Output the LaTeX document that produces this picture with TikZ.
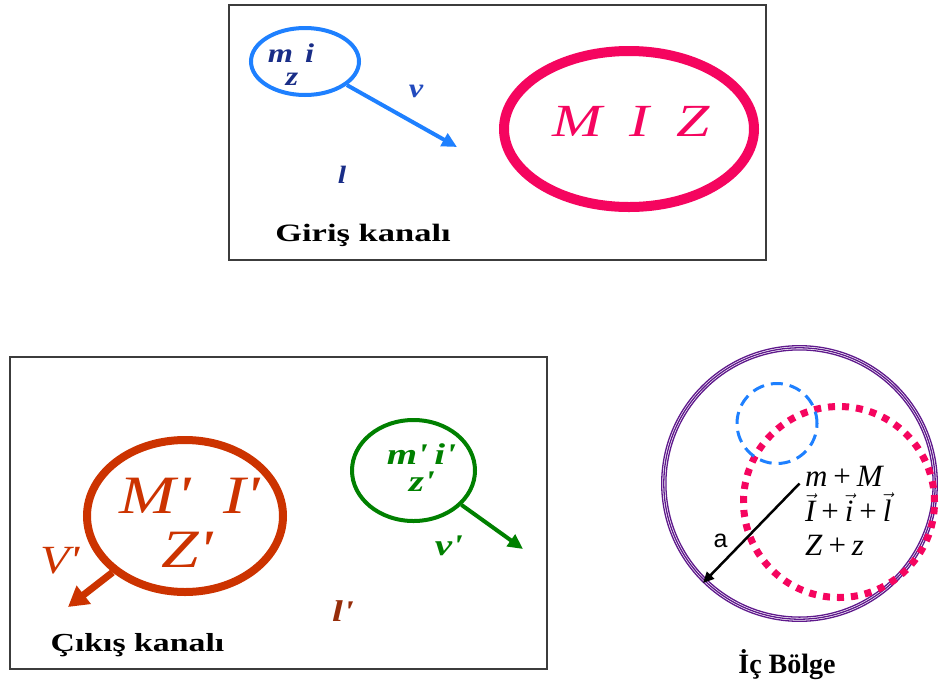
\documentclass[tikz,border=0pt]{standalone}
\usepackage{fontspec}
\setmainfont{Liberation Serif}
\newfontfamily\arialf{Liberation Sans}
\usepackage{graphicx}
\usetikzlibrary{arrows.meta,shapes.geometric}
\definecolor{bluec}{RGB}{30,128,255}
\definecolor{navyt}{RGB}{25,45,135}
\definecolor{bluev}{RGB}{35,75,190}
\definecolor{pinkc}{RGB}{245,5,95}
\definecolor{redc}{RGB}{204,51,0}
\definecolor{greenc}{RGB}{0,128,0}
\definecolor{brownc}{RGB}{150,45,10}
\definecolor{purpc}{RGB}{95,25,140}
\definecolor{boxc}{RGB}{60,60,60}
\newcommand{\hs}[2]{\scalebox{#1}[1]{#2}}
\newcommand{\fs}[1]{\fontsize{#1}{#1}\selectfont}
\newcommand{\pr}{\textquotesingle}
\newcommand{\pl}{\hspace{6pt}+\hspace{6pt}}
\begin{document}
\begin{tikzpicture}[x=1pt,y=-1pt,
  lbl/.style={inner sep=0pt,outer sep=0pt,anchor=base},
  lblw/.style={inner sep=0pt,outer sep=0pt,anchor=base west},
  framebox/.style={draw=boxc,line width=1.5pt,inner sep=0pt,anchor=north west},
  ring/.style={ellipse,inner sep=0pt},
  bigtxt/.style={lbl,font=\bfseries}]
\useasboundingbox (0,0) rectangle (939,686);
\fill[white] (0,0) rectangle (939,686);

% ---------- Giris kanali ----------
\node[framebox,minimum width=537pt,minimum height=255pt] (topbox) at (228,4) {};
\node[ring,draw=bluec,line width=4pt,minimum width=108pt,minimum height=67pt] (bc) at (305,61.5) {};
\coordinate (vtip) at (457,147);
\draw[bluec,line width=4pt,-{Triangle[length=15pt,width=14pt]}] (bc) -- (vtip);
\node[lbl,text=navyt] (mi) at (291,62) {\fs{27}\bfseries\itshape\hs{1.2}{m\hspace{10pt}i}};
\node[lbl,text=navyt] (zz) at (292,85) {\fs{27}\bfseries\itshape\hs{1.2}{z}};
\node[lbl,text=bluev] (v) at (416,97) {\fs{27}\bfseries\itshape\hs{1.2}{v}};
\node[lbl,text=navyt] (l) at (342,183) {\fs{25}\bfseries\itshape\hs{1.2}{l}};
\node[ring,draw=pinkc,line width=10pt,minimum width=250pt,minimum height=156pt] (miz) at (629,129) {};
\node[lbl,text=pinkc] (miztxt) at (631,136) {\fs{46}\itshape\hs{1.3}{M\hspace{21pt}I\hspace{21pt}Z}};
\node[bigtxt] (giris) at (363,241) {\fs{25}\hs{1.38}{Giriş kanalı}};

% ---------- Cikis kanali ----------
\node[framebox,minimum width=537pt,minimum height=312pt] (botbox) at (9,356) {};
\node[ring,draw=redc,line width=8pt,minimum width=196pt,minimum height=152pt] (rc) at (185,516) {};
\coordinate (Vtip) at (68,607);
\draw[redc,line width=7pt,-{Triangle[length=20pt,width=22pt]}] (rc) -- (Vtip);
\node[lbl,text=redc] (MI) at (190,513) {\fs{54}\itshape\hs{1.25}{M\pr\hspace{26pt}I\pr}};
\node[lbl,text=redc] (Zp) at (187,567) {\fs{54}\itshape\hs{1.25}{Z\pr}};
\node[lbl,text=redc] (Vp) at (60,573) {\fs{40}\itshape\hs{1.2}{V\pr}};

\node[ring,draw=greenc,line width=4pt,minimum width=123pt,minimum height=101pt] (gc) at (413.5,470.5) {};
\coordinate (vptip) at (523,549);
\draw[greenc,line width=4pt,-{Triangle[length=15pt,width=14pt]}] (gc) -- (vptip);
\node[lbl,text=greenc] (mip) at (421.5,464) {\fs{30}\bfseries\itshape\hs{1.3}{m\pr\hspace{5pt}i\pr}};
\node[lbl,text=greenc] (zp) at (422,491) {\fs{30}\bfseries\itshape\hs{1.3}{z\pr}};
\node[lbl,text=greenc] (vp) at (449,555) {\fs{30}\bfseries\itshape\hs{1.3}{v\pr}};
\node[lbl,text=brownc] (lp) at (343,621) {\fs{30}\bfseries\itshape\hs{1.3}{l\pr}};
\node[bigtxt] (cikis) at (137.5,651) {\fs{26}\hs{1.3}{Çıkış kanalı}};

% ---------- Ic Bolge ----------
\node[circle,draw=purpc,line width=1.3pt,minimum size=271.4pt,inner sep=0pt] (pc) at (799.5,483.5) {};
\draw[purpc,line width=1.3pt] (pc.center) circle[radius=133.6pt];
\draw[purpc,line width=1.3pt] (pc.center) circle[radius=137.8pt];
\node[circle,draw=pinkc,line width=7pt,dash pattern=on 7pt off 7pt,minimum size=191pt,inner sep=0pt] (pd) at (839,502) {};
\node[circle,draw=bluec,line width=3pt,dash pattern=on 12pt off 7pt,minimum size=80pt,inner sep=0pt] (bd) at (777,423.5) {};
\coordinate (atip) at (703,583);
\draw[black,line width=2.5pt,-{Triangle[length=11pt,width=10pt]}] (pc.center) -- (atip);
\node[lbl] (a) at (720.5,547) {\arialf\fs{25}a};
\node[lblw] (e1) at (805,486) {\fs{31}\textit{m}\pl\textit{M}};
\node[lblw] (e2) at (805,521) {\fs{31}$\vec{\textit{I}}$\pl$\vec{\textit{i}}$\pl$\vec{\textit{l}}$};
\node[lblw] (e3) at (805,555) {\fs{31}\textit{Z}\pl\textit{z}};
\node[bigtxt] (ic) at (787,673) {\fs{28}İç Bölge};
\end{tikzpicture}
\end{document}
